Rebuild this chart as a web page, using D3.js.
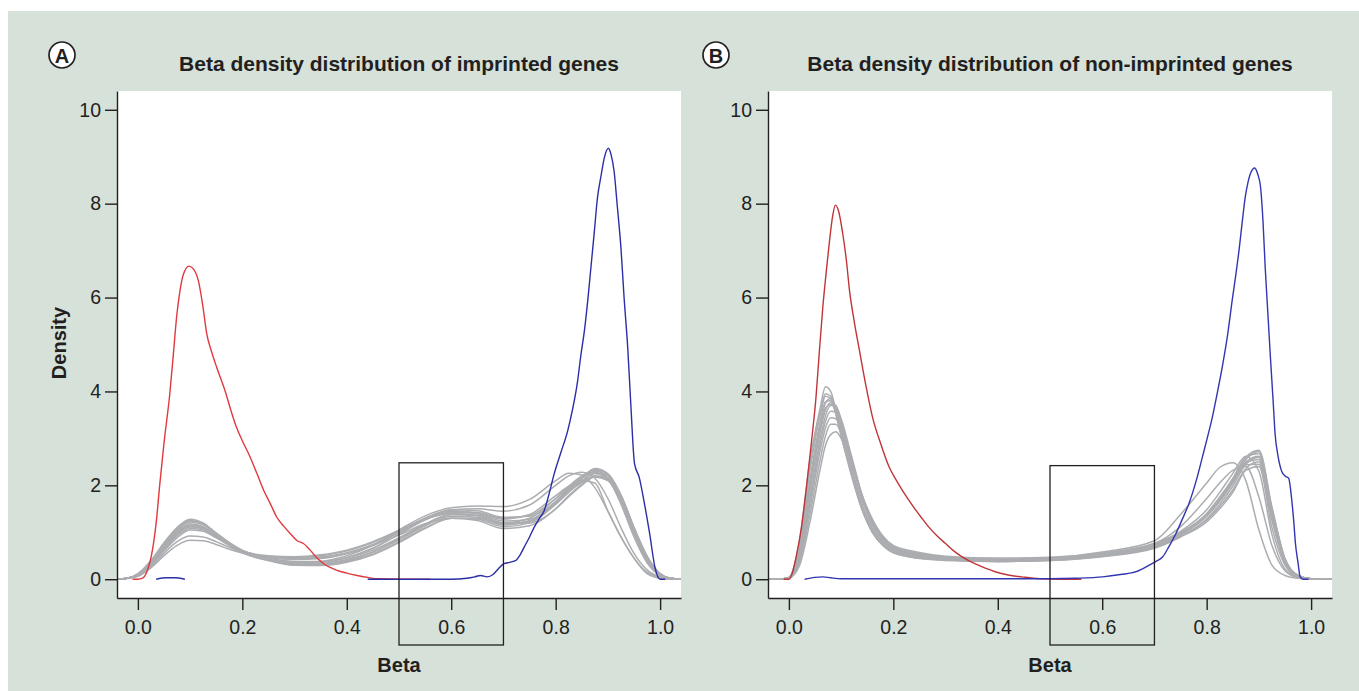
<!DOCTYPE html>
<html>
<head>
<meta charset="utf-8">
<script src="https://cdn.jsdelivr.net/npm/d3@7"></script>
<style>
  body { margin: 0; background: #fff; }
  text { font-family: "Liberation Sans", Arial, Helvetica, sans-serif; fill: #231f20; }
</style>
</head>
<body>
<script>
// ---- data ----
var xTicks = [0, 0.2, 0.4, 0.6, 0.8, 1.0];
var yTicks = [0, 2, 4, 6, 8, 10];
var boxX = [0.5, 0.7];

// panel A : imprinted genes  (null = line not visible there)
var redA = [[-0.01,0],[0,0],[0.01,0.03],[0.02,0.25],[0.026,0.51],[0.035,1.2],[0.042,2.03],[0.05,2.9],[0.061,3.94],[0.068,4.8],[0.074,5.57],[0.08,6.1],[0.087,6.49],[0.098,6.67],[0.107,6.6],[0.116,6.35],[0.124,5.85],[0.132,5.22],[0.141,4.85],[0.151,4.51],[0.167,4.01],[0.178,3.6],[0.189,3.23],[0.2,2.95],[0.215,2.6],[0.228,2.25],[0.241,1.89],[0.254,1.6],[0.266,1.32],[0.28,1.12],[0.292,0.97],[0.305,0.82],[0.317,0.76],[0.33,0.62],[0.343,0.45],[0.356,0.33],[0.368,0.25],[0.381,0.19],[0.4,0.13],[0.42,0.08],[0.44,0.04],[0.458,0.01],[0.5,0],[0.56,0]];
var blueA = [[0.035,0],[0.055,0.03],[0.07,0.03],[0.09,0],[0.1,null],[0.44,0],[0.6,0],[0.63,0.02],[0.645,0.05],[0.656,0.08],[0.669,0.05],[0.68,0.1],[0.69,0.22],[0.701,0.33],[0.712,0.36],[0.724,0.4],[0.732,0.52],[0.74,0.69],[0.75,0.9],[0.759,1.11],[0.768,1.28],[0.778,1.46],[0.787,1.8],[0.797,2.24],[0.81,2.7],[0.823,3.16],[0.832,3.6],[0.842,4.22],[0.848,4.75],[0.855,5.29],[0.862,6.0],[0.868,6.7],[0.874,7.4],[0.88,8.12],[0.887,8.6],[0.893,8.97],[0.901,9.18],[0.906,9.05],[0.912,8.68],[0.918,7.95],[0.925,7.06],[0.931,6.0],[0.938,4.93],[0.944,3.7],[0.951,2.46],[0.96,2.17],[0.97,1.61],[0.98,0.97],[0.99,0.26],[1.0,0],[1.01,0]];
var greyXA = [-0.04,-0.02,0,0.025,0.05,0.075,0.1,0.125,0.15,0.175,0.2,0.25,0.3,0.35,0.4,0.45,0.5,0.55,0.6,0.65,0.7,0.75,0.8,0.825,0.85,0.875,0.9,0.925,0.95,0.975,1.0,1.02,1.04];
var greyA = [
  [0,0.02,0.12,0.4,0.78,1.1,1.28,1.2,0.98,0.78,0.62,0.45,0.38,0.38,0.45,0.62,0.88,1.18,1.38,1.36,1.2,1.3,1.72,1.98,2.2,2.32,2.15,1.6,0.9,0.35,0.08,0.02,0],
  [0,0.02,0.1,0.36,0.72,1.05,1.22,1.16,0.96,0.76,0.6,0.42,0.34,0.34,0.42,0.58,0.84,1.14,1.34,1.32,1.16,1.24,1.66,1.94,2.16,2.28,2.12,1.65,0.95,0.38,0.08,0.02,0],
  [0,0.02,0.1,0.34,0.7,1.02,1.18,1.12,0.93,0.74,0.58,0.4,0.3,0.3,0.38,0.54,0.8,1.1,1.3,1.28,1.12,1.2,1.6,1.88,2.1,2.25,2.15,1.72,1.02,0.42,0.1,0.02,0],
  [0,0.02,0.1,0.32,0.66,0.98,1.15,1.1,0.92,0.73,0.58,0.42,0.35,0.36,0.46,0.66,0.96,1.26,1.44,1.42,1.3,1.36,1.72,1.96,2.16,2.3,2.2,1.75,1.05,0.45,0.1,0.02,0],
  [0,0.02,0.08,0.3,0.6,0.88,1.05,1.02,0.88,0.72,0.58,0.46,0.42,0.44,0.54,0.72,1.0,1.3,1.48,1.46,1.32,1.34,1.64,1.88,2.06,2.2,2.12,1.72,1.05,0.45,0.1,0.02,0],
  [0,0.02,0.06,0.24,0.5,0.72,0.83,0.82,0.74,0.64,0.56,0.48,0.46,0.48,0.56,0.72,0.94,1.18,1.3,1.25,1.08,1.14,1.5,1.76,2.0,2.18,2.1,1.75,1.1,0.5,0.12,0.02,0],
  [0,0.02,0.07,0.26,0.55,0.8,0.92,0.9,0.8,0.68,0.58,0.48,0.46,0.5,0.6,0.78,1.04,1.28,1.4,1.36,1.2,1.2,1.5,1.78,2.02,2.2,2.15,1.78,1.1,0.48,0.12,0.02,0],
  [0,0.02,0.1,0.35,0.7,1.0,1.15,1.1,0.92,0.74,0.58,0.42,0.36,0.38,0.5,0.72,1.05,1.35,1.52,1.56,1.55,1.7,2.1,2.26,2.22,1.95,1.45,0.9,0.45,0.15,0.04,0.01,0],
  [0,0.02,0.1,0.34,0.68,0.98,1.12,1.08,0.9,0.72,0.56,0.4,0.34,0.36,0.46,0.66,0.96,1.28,1.48,1.5,1.45,1.58,2.0,2.2,2.28,2.15,1.72,1.1,0.55,0.2,0.05,0.01,0],
  [0,0.02,0.11,0.38,0.75,1.08,1.25,1.18,0.97,0.77,0.6,0.42,0.32,0.32,0.4,0.58,0.86,1.16,1.38,1.36,1.18,1.24,1.62,1.9,2.14,2.34,2.22,1.78,1.08,0.45,0.1,0.02,0],
  [0,0.02,0.09,0.3,0.64,0.95,1.12,1.08,0.92,0.75,0.6,0.48,0.44,0.46,0.56,0.74,1.02,1.3,1.46,1.4,1.24,1.28,1.6,1.85,2.08,2.25,2.15,1.7,1.0,0.4,0.09,0.02,0],
  [0,0.02,0.11,0.37,0.74,1.06,1.24,1.18,0.98,0.78,0.6,0.42,0.3,0.29,0.36,0.52,0.78,1.08,1.3,1.3,1.16,1.24,1.64,1.92,2.15,2.36,2.25,1.8,1.1,0.45,0.1,0.02,0],
  [0,0.02,0.09,0.3,0.62,0.92,1.08,1.05,0.9,0.74,0.6,0.5,0.48,0.52,0.62,0.8,1.04,1.28,1.42,1.4,1.28,1.38,1.78,1.98,2.1,2.05,1.45,0.9,0.45,0.12,0.02,0,0]
];

// panel B : non-imprinted genes
var redB = [[-0.01,0],[0,0],[0.007,0.15],[0.014,0.48],[0.024,1.1],[0.033,1.9],[0.043,2.9],[0.052,3.89],[0.058,4.8],[0.065,5.8],[0.072,6.6],[0.078,7.23],[0.084,7.75],[0.089,7.97],[0.095,7.85],[0.103,7.37],[0.11,6.8],[0.116,6.16],[0.125,5.5],[0.135,4.88],[0.147,4.15],[0.16,3.46],[0.176,2.88],[0.192,2.39],[0.205,2.12],[0.217,1.9],[0.23,1.68],[0.243,1.47],[0.256,1.28],[0.268,1.11],[0.284,0.92],[0.3,0.76],[0.315,0.61],[0.331,0.48],[0.347,0.38],[0.363,0.3],[0.38,0.22],[0.395,0.16],[0.42,0.09],[0.446,0.05],[0.48,0.01],[0.52,0],[0.56,0]];
var blueB = [[0.03,0],[0.05,0.04],[0.065,0.05],[0.08,0.03],[0.1,0.01],[0.5,0.01],[0.55,0.02],[0.601,0.05],[0.635,0.1],[0.665,0.16],[0.69,0.3],[0.703,0.38],[0.716,0.48],[0.728,0.7],[0.741,0.97],[0.753,1.27],[0.766,1.61],[0.78,2.1],[0.792,2.61],[0.801,3.0],[0.811,3.46],[0.82,3.95],[0.83,4.53],[0.84,5.2],[0.849,5.95],[0.856,6.5],[0.862,7.01],[0.868,7.6],[0.874,8.15],[0.879,8.45],[0.884,8.65],[0.892,8.76],[0.898,8.62],[0.903,8.37],[0.908,7.6],[0.912,6.66],[0.917,5.7],[0.922,4.74],[0.927,3.85],[0.931,3.1],[0.937,2.6],[0.944,2.29],[0.95,2.2],[0.957,2.15],[0.963,1.68],[0.967,1.2],[0.97,0.76],[0.975,0.35],[0.979,0.05],[0.985,0],[0.995,0]];
var greyXB = [-0.04,-0.02,0,0.02,0.04,0.06,0.07,0.08,0.09,0.1,0.12,0.14,0.16,0.18,0.2,0.25,0.3,0.4,0.5,0.6,0.7,0.75,0.8,0.825,0.85,0.875,0.9,0.925,0.95,0.975,1.0,1.02,1.04];
var greyB = [
  [0,0,0.04,0.8,2.5,3.65,4.1,4.0,3.6,3.1,2.25,1.5,1.0,0.72,0.56,0.44,0.4,0.38,0.4,0.48,0.66,0.9,1.22,1.5,1.85,2.32,2.4,1.1,0.3,0.05,0.01,0,0],
  [0,0,0.04,0.72,2.35,3.55,3.95,3.9,3.55,3.1,2.25,1.5,1.0,0.72,0.57,0.45,0.41,0.38,0.4,0.49,0.68,0.92,1.26,1.55,1.9,2.36,2.5,1.25,0.34,0.06,0.01,0,0],
  [0,0,0.03,0.55,2.0,3.3,3.75,3.85,3.65,3.25,2.4,1.6,1.08,0.78,0.6,0.47,0.42,0.38,0.41,0.5,0.68,0.92,1.28,1.6,1.98,2.45,2.6,1.4,0.38,0.07,0.01,0,0],
  [0,0,0.03,0.5,1.85,3.15,3.6,3.76,3.7,3.38,2.55,1.72,1.15,0.82,0.64,0.5,0.44,0.4,0.42,0.51,0.7,0.95,1.34,1.68,2.08,2.55,2.72,1.5,0.42,0.08,0.01,0,0],
  [0,0,0.03,0.45,1.7,3.0,3.48,3.7,3.68,3.42,2.62,1.8,1.2,0.86,0.66,0.5,0.43,0.39,0.41,0.5,0.7,0.96,1.38,1.72,2.12,2.6,2.75,1.54,0.44,0.08,0.01,0,0],
  [0,0,0.03,0.42,1.6,2.88,3.36,3.58,3.56,3.32,2.58,1.78,1.2,0.86,0.67,0.52,0.45,0.4,0.42,0.52,0.72,0.98,1.4,1.75,2.15,2.6,2.68,1.44,0.4,0.07,0.01,0,0],
  [0,0,0.03,0.4,1.5,2.75,3.22,3.44,3.42,3.2,2.52,1.76,1.2,0.87,0.68,0.53,0.46,0.42,0.44,0.53,0.72,0.96,1.34,1.66,2.05,2.5,2.62,1.5,0.43,0.08,0.01,0,0],
  [0,0,0.02,0.35,1.35,2.55,3.05,3.3,3.3,3.12,2.5,1.78,1.24,0.9,0.7,0.55,0.47,0.43,0.45,0.54,0.74,0.98,1.36,1.68,2.06,2.48,2.55,1.38,0.38,0.06,0.01,0,0],
  [0,0,0.02,0.28,1.2,2.35,2.85,3.08,3.14,3.0,2.46,1.8,1.28,0.92,0.72,0.57,0.49,0.45,0.47,0.56,0.76,1.0,1.38,1.7,2.1,2.44,2.45,1.3,0.36,0.06,0.01,0,0],
  [0,0,0.04,0.7,2.3,3.5,3.9,3.85,3.5,3.05,2.2,1.48,1.0,0.73,0.58,0.47,0.43,0.41,0.45,0.58,0.82,1.38,2.05,2.38,2.48,2.1,1.05,0.3,0.08,0.02,0,0,0],
  [0,0,0.03,0.6,2.1,3.35,3.78,3.8,3.55,3.15,2.32,1.56,1.05,0.76,0.6,0.48,0.43,0.4,0.44,0.55,0.76,1.12,1.72,2.05,2.32,2.4,1.75,0.72,0.18,0.03,0,0,0],
  [0,0,0.03,0.5,1.9,3.2,3.65,3.72,3.6,3.3,2.5,1.7,1.14,0.82,0.63,0.49,0.44,0.4,0.43,0.53,0.74,1.02,1.48,1.85,2.25,2.62,2.3,0.95,0.22,0.04,0,0,0]
];

// ---- drawing ----
var W = 1359, H = 691;
var ink = "#231f20";

var svg = d3.select("body").append("svg")
  .attr("width", W).attr("height", H);

svg.append("rect")
  .attr("x", 8).attr("y", 11)
  .attr("width", W - 8).attr("height", H - 11)
  .attr("fill", "#d6e1da");

var defs = svg.append("defs");

function drawPanel(id, left, right, title, letter, letterX, red, blue, greyX, grey, boxTop, redColor, blueColor, showYLabel) {
  var top = 91, bottom = 598;

  var x = d3.scaleLinear().domain([-0.04, 1.04]).range([left, right]);
  var y = d3.scaleLinear().domain([-0.4, 10.4]).range([bottom, top]);

  // white plotting area
  svg.append("rect")
    .attr("x", left).attr("y", top)
    .attr("width", right - left).attr("height", bottom - top)
    .attr("fill", "#fff");

  defs.append("clipPath").attr("id", "clip" + id)
    .append("rect")
    .attr("x", left).attr("y", top)
    .attr("width", right - left).attr("height", bottom - top);

  var plot = svg.append("g").attr("clip-path", "url(#clip" + id + ")");

  var line = d3.line()
    .defined(function(d) { return d[1] !== null; })
    .x(function(d) { return x(d[0]); })
    .y(function(d) { return y(d[1]); })
    .curve(d3.curveMonotoneX);

  // grey samples
  grey.forEach(function(vals) {
    var pts = greyX.map(function(v, i) { return [v, vals[i]]; });
    plot.append("path")
      .attr("d", line(pts))
      .attr("fill", "none")
      .attr("stroke", "#abadb0")
      .attr("stroke-width", 1.5);
  });

  plot.append("path")
    .attr("d", line(red))
    .attr("fill", "none")
    .attr("stroke", redColor)
    .attr("stroke-width", 1.4);

  plot.append("path")
    .attr("d", line(blue))
    .attr("fill", "none")
    .attr("stroke", blueColor)
    .attr("stroke-width", 1.4);

  // axes
  var xAxis = d3.axisBottom(x)
    .tickValues(xTicks)
    .tickFormat(d3.format(".1f"))
    .tickSize(12)
    .tickSizeOuter(0)
    .tickPadding(10);

  var gx = svg.append("g")
    .attr("transform", "translate(0," + bottom + ")")
    .call(xAxis);

  var yAxis = d3.axisLeft(y)
    .tickValues(yTicks)
    .tickFormat(d3.format("d"))
    .tickSize(12)
    .tickSizeOuter(0)
    .tickPadding(4);

  var gy = svg.append("g")
    .attr("transform", "translate(" + left + ",0)")
    .call(yAxis);

  [gx, gy].forEach(function(g) {
    g.attr("font-family", null).attr("font-size", null);
    g.selectAll("path, line").attr("stroke", ink).attr("stroke-width", 1.4);
    g.selectAll("text").style("font-size", "19.5px").attr("fill", ink);
  });

  // highlight box from 0.5 to 0.7, running below the axis
  svg.append("rect")
    .attr("x", x(boxX[0]))
    .attr("y", y(boxTop))
    .attr("width", x(boxX[1]) - x(boxX[0]))
    .attr("height", 645 - y(boxTop))
    .attr("fill", "none")
    .attr("stroke", ink)
    .attr("stroke-width", 1.3);

  // titles
  svg.append("text")
    .attr("x", (left + right) / 2).attr("y", 71)
    .attr("text-anchor", "middle")
    .style("font-size", "21px").style("font-weight", "bold")
    .text(title);

  svg.append("text")
    .attr("x", (left + right) / 2).attr("y", 672)
    .attr("text-anchor", "middle")
    .style("font-size", "20px").style("font-weight", "bold")
    .text("Beta");

  if (showYLabel) {
    svg.append("text")
      .attr("transform", "translate(66,343) rotate(-90)")
      .attr("text-anchor", "middle")
      .style("font-size", "20px").style("font-weight", "bold")
      .text("Density");
  }

  // circled panel letter
  svg.append("circle")
    .attr("cx", letterX).attr("cy", 55).attr("r", 13)
    .attr("fill", "#fff")
    .attr("stroke", ink)
    .attr("stroke-width", 1.7);

  svg.append("text")
    .attr("x", letterX).attr("y", 62.5)
    .attr("text-anchor", "middle")
    .style("font-size", "20px").style("font-weight", "bold")
    .text(letter);
}

drawPanel("A", 117, 681, "Beta density distribution of imprinted genes", "A", 62,
  redA, blueA, greyXA, greyA, 2.48, "#e0393f", "#2b2ea6", true);
drawPanel("B", 768, 1332, "Beta density distribution of non-imprinted genes", "B", 716,
  redB, blueB, greyXB, greyB, 2.42, "#c0353a", "#3336b0", false);
</script>
</body>
</html>
